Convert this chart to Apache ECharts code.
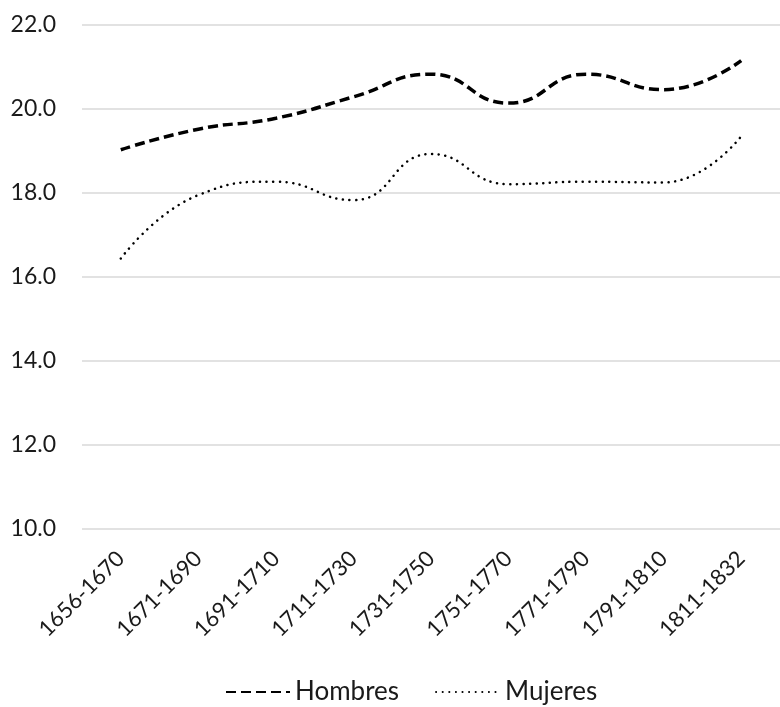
<!DOCTYPE html>
<html>
<head>
<meta charset="utf-8">
<script src="https://cdn.jsdelivr.net/npm/echarts@6/dist/echarts.min.js"></script>
<style>
html,body{margin:0;padding:0;background:#fff;}
#c{width:780px;height:707px;}
</style>
</head>
<body>
<div id="c"></div>
<script>
const categories = ['1656-1670','1671-1690','1691-1710','1711-1730','1731-1750','1751-1770','1771-1790','1791-1810','1811-1832'];
const hombres = [19.03, 19.52, 19.78, 20.29, 20.83, 20.14, 20.83, 20.46, 21.15];
const mujeres = [16.44, 17.95, 18.27, 17.83, 18.93, 18.21, 18.27, 18.25, 19.35];
const seriesNames = ['Hombres', 'Mujeres'];

const FONT = 'Lato';
const chart = echarts.init(document.getElementById('c'), null, {renderer: 'canvas'});
chart.setOption({
  animation: false,
  backgroundColor: '#ffffff',
  grid: {left: 82, right: -9, top: 25, bottom: 178, containLabel: false},
  legend: {
    bottom: -3,
    left: 220,
    itemWidth: 64,
    itemHeight: 14,
    itemGap: 36,
    itemStyle: {opacity: 0},
    textStyle: {fontFamily: FONT, fontSize: 26, color: '#1a1a1a'},
    data: seriesNames
  },
  xAxis: {
    type: 'category',
    data: categories,
    boundaryGap: true,
    axisLine: {show: false},
    axisTick: {show: false},
    axisLabel: {rotate: 45, margin: 26, fontFamily: FONT, fontSize: 22, color: '#1a1a1a', interval: 0}
  },
  yAxis: {
    type: 'value',
    min: 10, max: 22, interval: 2,
    axisLine: {show: false},
    axisTick: {show: false},
    splitLine: {lineStyle: {color: '#d9d9d9', width: 1.5}},
    axisLabel: {margin: 26, fontFamily: FONT, fontSize: 23, color: '#1a1a1a', formatter: v => v.toFixed(1)}
  },
  series: [
    {
      name: seriesNames[0], type: 'line', data: hombres, smooth: 0.5, symbol: 'none',
      itemStyle: {color: '#000'},
      lineStyle: {color: '#000', width: 3.5, type: [10, 5]}
    },
    {
      name: seriesNames[1], type: 'line', data: mujeres, smooth: 0.5, symbol: 'none',
      itemStyle: {color: '#000'},
      lineStyle: {color: '#000', width: 2.5, type: [0.1, 6.5], cap: 'round'}
    }
  ]
});
</script>
</body>
</html>
